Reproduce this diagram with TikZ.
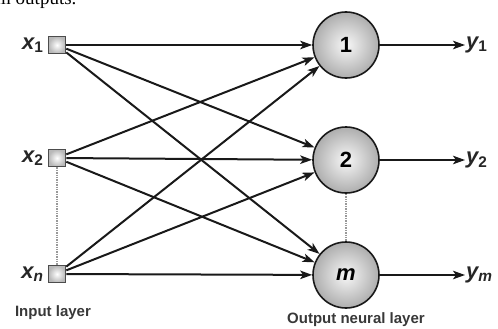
\documentclass[tikz,border=0pt]{standalone}
\usepackage{fontspec}
\setmainfont{Liberation Serif}
\setsansfont{Liberation Sans}
\usetikzlibrary{arrows.meta}
\usetikzlibrary{positioning}

\tikzset{
  inbox/.style={rectangle, draw=black!70, line width=1.6pt, minimum size=17pt, inner sep=0pt, inner color=white, outer color=black!28},
  neuron/.style={circle, draw=black!90, line width=1.6pt, minimum size=66pt, inner sep=0pt, inner color=black!3, outer color=black!32, font=\sffamily\bfseries\fontsize{22}{24}\selectfont},
  varlabel/.style={font=\sffamily\bfseries\itshape\fontsize{22}{24}\selectfont, text=black!85, inner sep=1pt},
  layertxt/.style={font=\sffamily\bfseries\fontsize{15}{17}\selectfont, text=black!78},
  wire/.style={line width=2pt, black!90, -{Stealth[length=12pt, width=8.5pt, inset=3pt]}},
  gap/.style={densely dotted, line width=1.4pt, black!40}
}

\begin{document}
\begin{tikzpicture}[x=1pt, y=-1pt]
\useasboundingbox (0,0) rectangle (498,329);

% cut-off line of text above the figure
\node[anchor=base west, inner sep=0pt, font=\fontsize{19}{21}\selectfont] (topline) at (-4,5) {m outputs.};

% First, define the input and output nodes
\draw (57,45) node[inbox] (x1) {};
\draw (57,158) node[inbox] (x2) {};
\draw (57,274) node[inbox] (xn) {};

\draw (346,45) node[neuron] (o1) {1};
\draw (346,160) node[neuron] (o2) {2};
\draw (346,275) node[neuron] (om) {\itshape m};

% names of the inputs and outputs
\node[varlabel, left=3pt of x1] (lx1) {x\textsubscript{\upshape 1}};
\node[varlabel, left=3pt of x2] (lx2) {x\textsubscript{\upshape 2}};
\node[varlabel, left=3pt of xn] (lxn) {x\textsubscript{n}};

\node[varlabel, anchor=west] (y1) at (465,45) {y\textsubscript{\upshape 1}};
\node[varlabel, anchor=west] (y2) at (465,160) {y\textsubscript{\upshape 2}};
\node[varlabel, anchor=west] (ym) at (465,275) {y\textsubscript{m}};

% layer names
\node[layertxt] (inlayer) at (53,313) {Input layer};
\node[layertxt] (outlayer) at (356,320) {Output neural layer};

% dotted gaps between the last two nodes of each layer
\draw[gap] (x2) -- (xn);
\draw[gap] (o2) -- (om);

% every input goes to every output neuron
\foreach \i in {x1,x2,xn} {
  \foreach \o in {o1,o2,om} { \draw[wire] (\i) -- (\o); }
}

% outputs
\draw[wire] (o1) -- (y1);
\draw[wire] (o2) -- (y2);
\draw[wire] (om) -- (ym);

\end{tikzpicture}
\end{document}
